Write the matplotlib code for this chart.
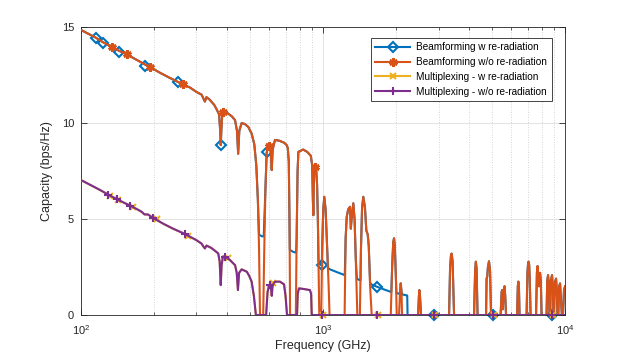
import matplotlib
matplotlib.use('Agg')
import matplotlib.pyplot as plt
from matplotlib.lines import Line2D
from matplotlib.ticker import NullFormatter, LogLocator

plt.rcParams['font.family'] = ['Liberation Sans', 'DejaVu Sans']

# Beamforming w/o re-radiation (GHz, bps/Hz)
bf_wo_f = [100, 115, 123.6, 133.9, 143.9, 154.5, 175, 183.9, 192.8, 212, 233, 252.5, 263, 282,
           300, 315, 320, 325, 330, 340, 355, 364, 372, 376, 378, 380, 384, 387.3, 400, 420, 433,
           441, 446, 451, 461, 475, 491, 507, 520, 530, 538, 544, 549, 566, 571, 578, 585, 594,
           600, 608, 614, 619, 633, 660, 690, 708, 715, 722, 727, 731, 772, 778, 785, 791, 828,
           860, 890, 902, 908, 912, 916, 922, 930, 936, 945, 952, 958, 965, 983, 992, 1002, 1012,
           1025, 1040, 1055, 1064, 1228, 1240, 1253, 1270, 1293, 1303, 1312, 1334, 1350, 1365,
           1386, 1420, 1435, 1450, 1467, 1490, 1510, 1530, 1545, 1565, 1589, 1905, 1930, 1950,
           1965, 1980, 2000, 2016, 2061, 2080, 2095, 2110, 2121, 2470, 2490, 2500, 2515, 2541,
           3317, 3350, 3380, 3400, 3430, 3479, 4207, 4250, 4280, 4310, 4350, 4716, 4740, 4770,
           4800, 4850, 4900, 4945, 5415, 5470, 5492, 5530, 5580, 5623, 5660, 5704, 6334, 6380,
           6412, 6450, 6486, 6935, 6990, 7040, 7069, 7110, 7150, 7204, 7589, 7650, 7698, 7750,
           7800, 7850, 7883, 7940, 7996, 8385, 8440, 8505, 8570, 8620, 8680, 8740, 8834, 8900,
           8950, 9000, 9080, 9180, 9250, 9300, 9380, 9450, 9535, 9600, 9700, 9800, 9900, 10000]
bf_wo_c = [14.85, 14.45, 14.2, 13.98, 13.76, 13.58, 13.2, 13.05, 12.92, 12.62, 12.35, 12.13, 12.02, 11.85,
           11.62, 11.48, 11.3, 11.12, 11.35, 11.22, 10.95, 10.7, 10.45, 9.6, 8.85, 9.6, 10.6, 10.6, 10.55, 10.35, 10.15,
           9.6, 8.4, 9.6, 10.0, 9.95, 9.8, 9.45, 8.9, 7.8, 6.0, 3.5, 0, 0, 3.0, 6.5, 8.45, 8.9,
           8.8, 8.5, 7.55, 8.6, 9.12, 9.08, 8.98, 8.85, 8.7, 8.0, 5.0, 0, 0, 4.0, 7.5, 8.5, 8.62,
           8.5, 8.3, 7.8, 6.0, 5.2, 6.8, 7.7, 7.7, 7.7, 6.8, 5.0, 2.5, 0, 0, 3.5, 5.5, 6.16,
           5.5, 3.5, 1.5, 0, 0, 4.0, 5.12, 5.5, 5.64, 4.5, 5.0, 5.82, 5.0, 3.0,
           0, 0, 3.5, 5.6, 6.16, 5.6, 4.4, 4.2, 3.6, 1.5, 0, 0, 2.5, 3.8,
           4.0, 3.6, 2.0, 0, 0, 1.2, 1.65, 1.2, 0, 0, 1.0, 1.3, 1.0, 0,
           0, 2.5, 3.15, 3.2, 2.8, 0, 0, 2.3, 2.78, 2.4, 0, 0, 1.9, 2.0,
           2.5, 2.8, 2.3, 0, 0, 1.2, 1.3, 0.3, 1.3, 1.5, 1.0, 0, 0, 1.5,
           1.74, 1.4, 0, 0, 2.2, 2.75, 2.78, 2.6, 1.8, 0, 0, 2.2, 2.55, 2.0,
           1.5, 2.1, 2.2, 1.8, 0, 0, 1.8, 2.08, 1.6, 0, 0, 1.8, 2.08, 1.5,
           0, 0, 1.7, 1.9, 1.2, 0, 0, 1.5, 1.65, 1.0, 0, 0, 1.3, 1.5]

# Beamforming w re-radiation
bf_w_f = [100, 115, 123.6, 133.9, 143.9, 154.5, 175, 183.9, 192.8, 212, 233, 252.5, 263, 282,
          300, 315, 320, 325, 330, 340, 355, 364, 372, 376, 378, 380, 384, 387.3, 400, 420, 433,
          441, 446, 451, 461, 475, 491, 507, 520, 530, 538, 544, 550, 560, 569, 578, 585, 594,
          600, 608, 614, 619, 633, 660, 690, 708, 715, 722, 727, 729, 750, 774, 778, 785, 791, 828,
          860, 890, 902, 908, 912, 916, 922, 930, 936, 945, 952, 958, 965, 983, 988, 992, 1002, 1012,
          1025, 1040, 1048, 1069, 1150, 1230, 1240, 1253, 1270, 1293, 1303, 1312, 1334, 1350, 1365,
          1380, 1400, 1428, 1435, 1450, 1467, 1490, 1510, 1530, 1545, 1565, 1580, 1667, 1800, 1915,
          1930, 1950, 1965, 1980, 2000, 2010, 2075, 2080, 2095, 2110, 2120, 2183, 2228, 2235,
          2470, 2490, 2500, 2515, 2541,
          3317, 3350, 3380, 3400, 3430, 3479, 4207, 4250, 4280, 4310, 4350, 4716, 4740, 4770,
          4800, 4850, 4900, 4945, 5415, 5470, 5492, 5530, 5580, 5623, 5660, 5704, 6334, 6380,
          6412, 6450, 6486, 6935, 6990, 7040, 7069, 7110, 7150, 7204, 7589, 7650, 7698, 7750,
          7800, 7850, 7883, 7940, 7996, 8385, 8440, 8505, 8570, 8620, 8680, 8740, 8834, 8900,
          8950, 9000, 9080, 9180, 9250, 9300, 9380, 9450, 9535, 9600, 9700, 9800, 9900, 10000]
bf_w_c = [14.85, 14.45, 14.2, 13.98, 13.76, 13.58, 13.2, 13.05, 12.92, 12.62, 12.35, 12.13, 12.02, 11.85,
          11.62, 11.48, 11.3, 11.12, 11.35, 11.22, 10.95, 10.7, 10.45, 9.6, 8.85, 9.6, 10.6, 10.6, 10.55, 10.35, 10.15,
          9.6, 8.4, 9.6, 10.0, 9.95, 9.8, 9.45, 8.9, 7.8, 6.0, 4.2, 4.15, 4.1, 4.1, 6.5, 8.45, 8.9,
          8.8, 8.5, 7.55, 8.6, 9.12, 9.08, 8.98, 8.85, 8.7, 8.0, 5.0, 3.4, 3.3, 3.25, 4.0, 7.5, 8.5, 8.62,
          8.5, 8.3, 7.8, 6.0, 5.2, 6.8, 7.7, 7.7, 7.7, 6.8, 5.0, 2.8, 2.68, 2.6, 2.6, 3.5, 5.5, 6.16,
          5.5, 3.5, 2.45, 2.38, 2.22, 2.08, 4.0, 5.12, 5.5, 5.64, 4.5, 5.0, 5.82, 5.0, 3.0,
          1.9, 1.85, 1.8, 3.5, 5.6, 6.16, 5.6, 4.4, 4.2, 3.6, 1.7, 1.6, 1.48, 1.32, 1.2,
          2.5, 3.8, 4.0, 3.6, 2.0, 1.15, 1.1, 1.2, 1.65, 1.2, 1.08, 1.04, 1.02, 0,
          0, 1.0, 1.3, 1.0, 0,
          0, 2.5, 3.15, 3.2, 2.8, 0, 0, 2.3, 2.78, 2.4, 0, 0, 1.9, 2.0,
          2.5, 2.8, 2.3, 0, 0, 1.2, 1.3, 0.3, 1.3, 1.5, 1.0, 0, 0, 1.5,
          1.74, 1.4, 0, 0, 2.2, 2.75, 2.78, 2.6, 1.8, 0, 0, 2.2, 2.55, 2.0,
          1.5, 2.1, 2.2, 1.8, 0, 0, 1.8, 2.08, 1.6, 0, 0, 1.8, 2.08, 1.5,
          0, 0, 1.7, 1.9, 1.2, 0, 0, 1.5, 1.65, 1.0, 0, 0, 1.3, 1.5]

# Multiplexing w/o re-radiation
mux_wo_f = [100, 110, 120, 129.7, 140.4, 150, 159.4, 170, 178, 183, 189, 199, 220, 240, 269.1, 282,
            300, 315, 320, 325, 330, 345, 360, 369, 374, 377.9, 381, 386, 393.6, 413, 433, 440, 445,
            450, 461, 484, 495, 507, 518, 528, 582, 590, 597, 604, 609, 614, 619, 633, 664, 690,
            700, 710, 781, 786, 795, 830, 883, 893, 898, 10000]
mux_wo_c = [7.03, 6.76, 6.51, 6.27, 6.04, 5.86, 5.70, 5.52, 5.38, 5.24, 5.24, 5.05, 4.74, 4.5, 4.22, 4.08,
            3.9, 3.72, 3.58, 3.47, 3.62, 3.5, 3.32, 3.21, 2.8, 1.56, 2.6, 3.05, 3.04, 2.86, 2.6, 2.2, 1.3,
            2.2, 2.38, 2.26, 2.05, 1.74, 1.0, 0, 0, 1.2, 1.5, 1.56, 1.45, 1.0, 1.55, 1.74, 1.74, 1.6,
            1.0, 0, 0, 1.1, 1.39, 1.36, 1.3, 1.1, 0, 0]

# Multiplexing w re-radiation (lies under the w/o curve)
mux_w_f = list(mux_wo_f)
mux_w_c = list(mux_wo_c)

# marker positions
bf_w_mk_f = [115.0, 123.6, 143.9, 183.9, 252.5, 377.9, 585.4, 987.6, 1667, 2876, 5040, 8834]
bf_w_mk_c = [14.44, 14.18, 13.71, 12.95, 12.12, 8.85, 8.47, 2.6, 1.48, 0, 0, 0]
bf_wo_mk_f = [133.9, 154.5, 192.8, 263.2, 387.3, 600, 926.7]
bf_wo_mk_c = [13.97, 13.58, 12.9, 12.02, 10.59, 8.8, 7.72]
mux_w_mk_f = [131.8, 142.6, 164.5, 205.5, 277.6, 406.2, 623.2, 1002.8, 1690, 2900, 5100, 8900]
mux_w_mk_c = [6.2, 6.0, 5.62, 4.98, 4.14, 2.95, 1.65, 0, 0, 0, 0, 0]
mux_wo_mk_f = [129.7, 140.4, 159.4, 199, 269.1, 393.6, 604, 987.6, 1667, 2876, 5040, 8834]
mux_wo_mk_c = [6.27, 6.04, 5.70, 5.05, 4.22, 3.04, 1.56, 0, 0, 0, 0, 0]

labels = ['Beamforming w re-radiation', 'Beamforming w/o re-radiation',
          'Multiplexing - w re-radiation', 'Multiplexing - w/o re-radiation']
colors = ['#0072BD', '#D95319', '#EDB120', '#7E2F8E']
markers = [dict(marker='D', ms=5, mfc='none', mew=1.5),
           dict(marker=(6, 2, 0), ms=6, mew=2),
           dict(marker='x', ms=4.5, mew=1.5),
           dict(marker='+', ms=6, mew=1.5)]

fig = plt.figure(figsize=(6.23, 3.56), dpi=100)
ax = fig.add_axes([0.130, 0.115, 0.777, 0.809])

series = [(bf_w_f, bf_w_c, bf_w_mk_f, bf_w_mk_c),
          (bf_wo_f, bf_wo_c, bf_wo_mk_f, bf_wo_mk_c),
          (mux_w_f, mux_w_c, mux_w_mk_f, mux_w_mk_c),
          (mux_wo_f, mux_wo_c, mux_wo_mk_f, mux_wo_mk_c)]
handles = []
for i, (f, c, mf, mc) in enumerate(series):
    ax.plot(f, c, color=colors[i], lw=1.5, zorder=2 + i)
    ax.plot(mf, mc, ls='none', color=colors[i], zorder=2 + i, clip_on=False, **markers[i])
    handles.append(Line2D([], [], color=colors[i], lw=1.5, **markers[i]))

ax.set_xscale('log')
ax.set_xlim(100, 10000)
ax.set_ylim(0, 15)
ax.set_yticks([0, 5, 10, 15])
ax.xaxis.set_minor_locator(LogLocator(base=10, subs=range(2, 10)))
ax.xaxis.set_minor_formatter(NullFormatter())

ax.grid(True, which='major', color='#dedede', lw=0.6, ls='-')
ax.grid(True, which='minor', axis='x', color='#c8c8c8', lw=0.6, ls=(0, (1, 2)))
ax.set_axisbelow(True)
ax.tick_params(which='both', direction='in', top=True, right=True, colors='#262626', labelsize=8)
ax.tick_params(which='major', length=4, width=0.6)
ax.tick_params(which='minor', length=2.5, width=0.5)
ax.tick_params(axis='x', which='major', pad=6)
ax.tick_params(axis='y', which='major', pad=5)
for s in ax.spines.values():
    s.set_color('#262626')
    s.set_linewidth(0.6)

ax.set_xlabel('Frequency (GHz)', fontsize=9, color='#262626', labelpad=2)
ax.set_ylabel('Capacity (bps/Hz)', fontsize=9, color='#262626', labelpad=6)

leg = ax.legend(handles, labels, loc='upper right', bbox_to_anchor=(0.983, 0.98), fontsize=7.2,
                fancybox=False, framealpha=1, edgecolor='#262626', handlelength=3.5,
                handletextpad=0.6, borderpad=0.45, labelspacing=0.48)
leg.get_frame().set_linewidth(0.6)

fig.savefig('out.png', dpi=100)
